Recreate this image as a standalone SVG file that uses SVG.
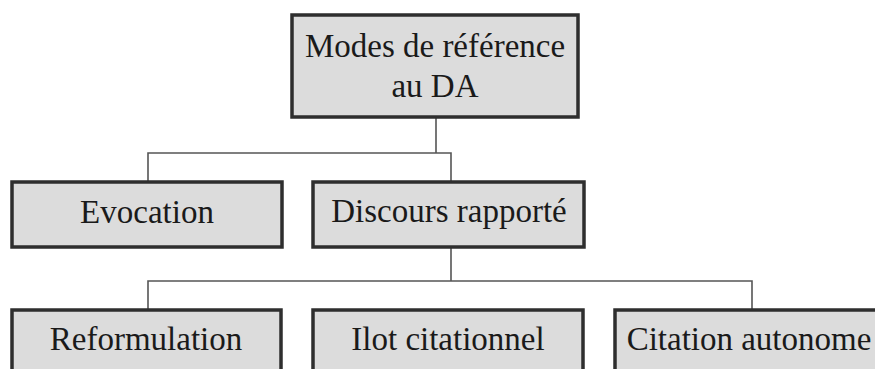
<svg xmlns="http://www.w3.org/2000/svg" width="875" height="369" viewBox="0 0 875 369">
<style>
.box{fill:#dcdcdc;stroke:#2e2e2e;stroke-width:3.5}
.lbl{font-family:"Liberation Serif","Times New Roman",serif;font-size:33px;fill:#1a1a1a;text-anchor:middle}
.conn{fill:none;stroke:#555;stroke-width:1.6}
</style>
<rect width="875" height="369" fill="#fff"/>
<g id="connectors">
<path class="conn" d="M436 117 V153 M148 182 V153 H451 V182"/>
<path class="conn" d="M451 247 V281 M148 310 V281 H752 V310"/>
</g>
<g id="root">
<rect class="box" x="292" y="15" width="286" height="102"/>
<text class="lbl" x="435" y="57">Modes de référence</text>
<text class="lbl" x="435" y="97">au DA</text>
</g>
<g id="evocation">
<rect class="box" x="12" y="182" width="270" height="65"/>
<text class="lbl" x="147" y="223">Evocation</text>
</g>
<g id="discours">
<rect class="box" x="313" y="182" width="271" height="65"/>
<text class="lbl" x="449" y="222">Discours rapporté</text>
</g>
<g id="reformulation">
<rect class="box" x="12" y="310" width="269" height="75"/>
<text class="lbl" x="146" y="350">Reformulation</text>
</g>
<g id="ilot">
<rect class="box" x="313" y="310" width="270" height="75"/>
<text class="lbl" x="448" y="350">Ilot citationnel</text>
</g>
<g id="citation">
<rect class="box" x="615" y="310" width="274" height="75"/>
<text class="lbl" x="749" y="350">Citation autonome</text>
</g>
</svg>
